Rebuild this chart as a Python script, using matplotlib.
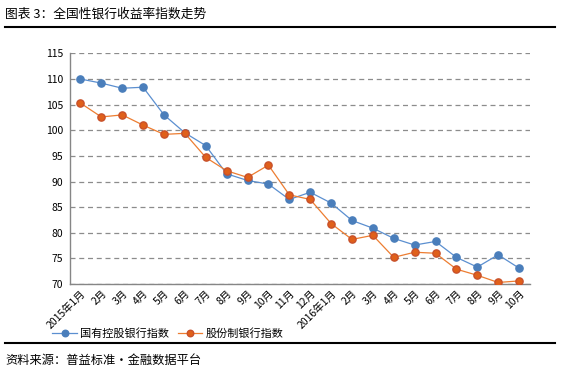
import matplotlib
matplotlib.use("Agg")
import matplotlib.pyplot as plt

plt.rcParams['font.family'] = ['Noto Sans CJK SC', 'DejaVu Sans']

# ---------------------------------------------------------
# Data
# ---------------------------------------------------------
months = ["2015年1月", "2月", "3月", "4月", "5月", "6月", "7月", "8月", "9月", "10月", "11月", "12月",
          "2016年1月", "2月", "3月", "4月", "5月", "6月", "7月", "8月", "9月", "10月"]
state_owned = [110.0, 109.2, 108.2, 108.4, 103.0, 99.5, 97.0, 91.5, 90.2, 89.5, 86.5,
               87.9, 85.8, 82.4, 80.9, 78.9, 77.6, 78.3, 75.2, 73.3, 75.7, 73.1]
joint_stock = [105.3, 102.6, 103.0, 101.0, 99.2, 99.4, 94.7, 92.1, 90.8, 93.2, 87.4,
               86.5, 81.8, 78.7, 79.5, 75.2, 76.2, 76.0, 72.9, 71.7, 70.3, 70.6]
y_ticks = [70, 75, 80, 85, 90, 95, 100, 105, 110, 115]

W, H = 563, 372
fig = plt.figure(figsize=(W / 100, H / 100), dpi=100)

# title + rules
fig.text(5 / W, 1 - 14 / H, "图表 3：全国性银行收益率指数走势", fontsize=9.2, va='center', ha='left')
fig.add_artist(plt.Line2D([5 / W, 555 / W], [1 - 27 / H, 1 - 27 / H], color='black', lw=1.5))
fig.add_artist(plt.Line2D([5 / W, 555 / W], [1 - 343 / H, 1 - 343 / H], color='black', lw=1.5))
fig.text(5 / W, 1 - 360 / H, "资料来源：普益标准·金融数据平台", fontsize=8.8, va='center', ha='left')

# ---------------------------------------------------------
# Main axes
# ---------------------------------------------------------
left, right = 70 / W, 529.5 / W
bottom, top = 1 - 284 / H, 1 - 53.4 / H
ax = fig.add_axes([left, bottom, right - left, top - bottom])

x = list(range(len(months)))
ax.plot(x, state_owned, color='#5B8FD0', lw=0.9, marker='o', markersize=5.2,
        markerfacecolor='#4A7EBB', markeredgecolor='#4A7EBB', label='国有控股银行指数', zorder=3)
ax.plot(x, joint_stock, color='#ED7D31', lw=0.9, marker='o', markersize=5.2,
        markerfacecolor='#E0601A', markeredgecolor='#C8502A', label='股份制银行指数', zorder=4)

ax.set_xlim(-0.5, len(months) - 0.5)
ax.set_ylim(70, 115)
ax.set_yticks(y_ticks)
ax.set_yticklabels([str(v) for v in y_ticks], fontsize=7.5)
ax.set_xticks(x)
ax.set_xticklabels(months, fontsize=7.5, rotation=45, ha='right', rotation_mode='anchor')
ax.tick_params(axis='both', length=0, pad=5)
ax.tick_params(axis='x', pad=3)

ax.grid(axis='y', linestyle=(0, (4, 3)), color='#8C8C8C', lw=0.9)
ax.set_axisbelow(True)
for side in ['top', 'right']:
    ax.spines[side].set_visible(False)
for side in ['left', 'bottom']:
    ax.spines[side].set_color('#868686')
    ax.spines[side].set_linewidth(1)

fig.legend(loc='center', bbox_to_anchor=(168 / W, 1 - 333 / H), ncol=2, frameon=False,
           fontsize=8, handlelength=2.2, handletextpad=0.3, columnspacing=0.8, markerscale=0.9)

fig.savefig("out.png", dpi=100)
plt.close(fig)
